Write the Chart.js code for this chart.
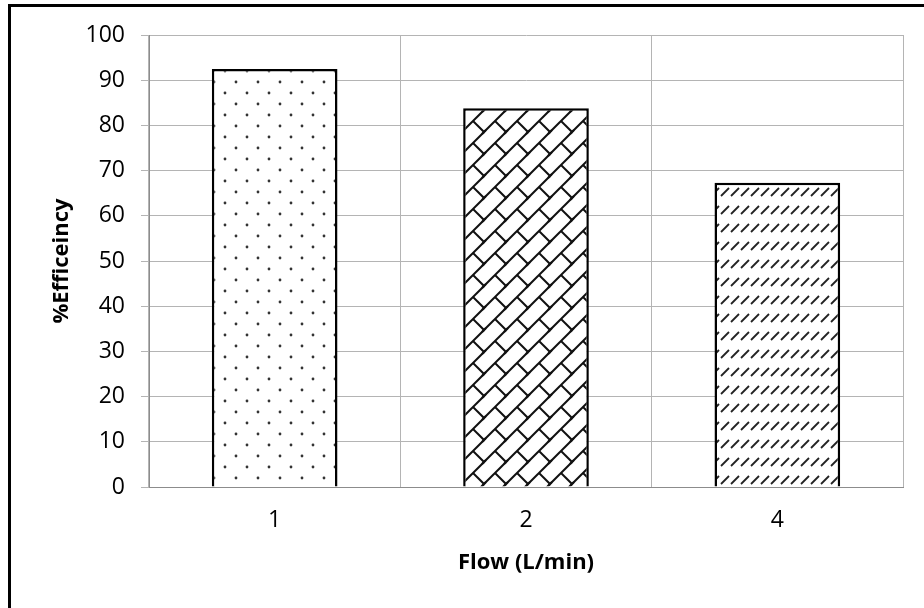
<!DOCTYPE html>
<html><head><meta charset="utf-8">
<script src="https://cdn.jsdelivr.net/npm/chart.js@4.4.1/dist/chart.umd.min.js"></script>
<style>
html,body{margin:0;padding:0;background:#fff}
#wrap{position:relative;width:924px;height:608px;overflow:hidden}
#frame{position:absolute;left:8px;top:4px;width:930px;height:620px;border-left:3px solid #000;border-top:3px solid #000;pointer-events:none}
canvas{position:absolute;left:0;top:0}
</style></head><body>
<div id="wrap"><canvas id="c" width="924" height="608"></canvas><div id="frame"></div></div>
<script>
// ---- data ----
const categories = ['1', '2', '4'];
const efficiency = [92.5, 83.8, 67.3];
const yMin = 0, yMax = 100, yStep = 10;
const xTitle = 'Flow (L/min)';
const yTitle = '%Efficeincy';

// ---- fill patterns ----
function tile(w, h, draw) {
  const c = document.createElement('canvas');
  c.width = w; c.height = h;
  const g = c.getContext('2d');
  g.fillStyle = '#fff'; g.fillRect(0, 0, w, h);
  draw(g, w, h);
  return g.createPattern(c, 'repeat');
}
const dotPattern = tile(22, 22, (g) => {
  g.fillStyle = '#333';
  [[5, 5], [16, 16]].forEach(([x, y]) => { g.beginPath(); g.arc(x, y, 1.4, 0, Math.PI * 2); g.fill(); });
});
const brickPattern = tile(22, 22, (g, T) => {
  g.strokeStyle = '#111'; g.lineWidth = 2;
  for (const ox of [-T, 0, T]) for (const oy of [-T, 0, T]) {
    g.beginPath(); g.moveTo(ox - 2, oy + T + 2); g.lineTo(ox + T + 2, oy - 2); g.stroke();
    g.beginPath(); g.moveTo(ox + T / 2, oy + T / 2); g.lineTo(ox + T, oy + T); g.stroke();
  }
});
const dashPattern = tile(10, 18, (g, W, H) => {
  g.strokeStyle = '#222'; g.lineWidth = 1.8;
  for (const ox of [-W, 0, W]) {
    g.beginPath(); g.moveTo(ox + 1, H - 2); g.lineTo(ox + W - 1, H / 2 - 1); g.stroke();
  }
});
const fills = [dotPattern, brickPattern, dashPattern];

const FONT = "'Open Sans', 'Liberation Sans', sans-serif";

new Chart(document.getElementById('c'), {
  type: 'bar',
  data: {
    labels: categories,
    datasets: [{
      data: efficiency,
      backgroundColor: fills,
      borderColor: '#000',
      borderWidth: 2.5,
      categoryPercentage: 1.0,
      barPercentage: 0.5
    }]
  },
  options: {
    responsive: false,
    animation: false,
    devicePixelRatio: 1,
    layout: { padding: { left: 0, top: 35, right: 21, bottom: 0 } },
    plugins: { legend: { display: false }, tooltip: { enabled: false } },
    scales: {
      x: {
        grid: { offset: true, drawTicks: false, color: '#b4b4b4', lineWidth: 1 },
        border: { display: true, color: '#8c8c8c', width: 1 },
        ticks: { color: '#000', font: { family: FONT, size: 23 }, padding: 20 },
        title: { display: true, text: xTitle, color: '#000', font: { family: FONT, size: 22, weight: 'bold' }, padding: { top: 0, bottom: 32 } },
        afterFit: (s) => { s.height = 121; }
      },
      y: {
        min: yMin, max: yMax,
        ticks: { stepSize: yStep, color: '#000', font: { family: FONT, size: 23 }, padding: 16 },
        grid: { color: '#b4b4b4', lineWidth: 1, tickLength: 8, drawTicks: true },
        border: { display: true, color: '#8c8c8c', width: 1 },
        title: { display: true, text: yTitle, color: '#000', font: { family: FONT, size: 22, weight: 'bold' }, padding: { top: 49, bottom: 0 } },
        afterFit: (s) => { s.width = 149; }
      }
    }
  }
});
</script>
</body></html>
